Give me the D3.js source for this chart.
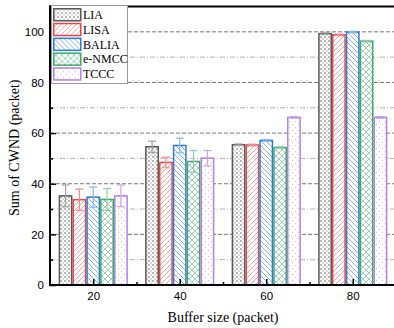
<!DOCTYPE html>
<html>
<head>
<meta charset="utf-8">
<script src="https://cdn.jsdelivr.net/npm/d3@7/dist/d3.min.js"></script>
<style>
  body { margin: 0; background: #fff; }
  svg { display: block; }
  .tick text { font-family: "Liberation Sans", Arial, sans-serif; font-size: 11.5px; fill: #000; }
</style>
</head>
<body>
<div id="chart"></div>
<script>
// data
const buffers = [20, 40, 60, 80];
const seriesNames = ['LIA', 'LISA', 'BALIA', 'e-NMCC', 'TCCC'];
const liaVals = [35.2, 54.6, 55.4, 99.3];
const lisaVals = [33.7, 48.4, 55.3, 98.8];
const baliaVals = [34.7, 55.1, 57.1, 99.9];
const enmccVals = [33.8, 48.8, 54.3, 96.3];
const tcccVals = [35.2, 50.1, 66.2, 66.2];
const liaErr = [4.3, 2.2, 0.3, 0.3];
const lisaErr = [4.2, 2.1, 0.3, 0.3];
const baliaErr = [4.0, 2.9, 0.3, 0.3];
const enmccErr = [4.3, 4.3, 0.3, 0.3];
const tcccErr = [4.3, 3.0, 0.3, 0.3];
const yMajor = [0, 20, 40, 60, 80, 100];
const yMinor = [10, 30, 50, 70, 90];
const xMinor = [30, 50, 70];

const values = [liaVals, lisaVals, baliaVals, enmccVals, tcccVals];
const errors = [liaErr, lisaErr, baliaErr, enmccErr, tcccErr];

const styles = {
  'LIA':    { stroke: '#5a5a5a', light: '#b8b8b8', err: '#a0a0a0' },
  'LISA':   { stroke: '#e8484c', light: '#f5a3a5', err: '#f08b8d' },
  'BALIA':  { stroke: '#2f78df', light: '#86b4ef', err: '#8ab6ef' },
  'e-NMCC': { stroke: '#3fa86c', light: '#9dd5b4', err: '#8fcfa8' },
  'TCCC':   { stroke: '#b481e6', light: '#d2b6f0', err: '#c7a3ee' }
};

const W = 394, H = 328;
const svg = d3.select('#chart').append('svg')
  .attr('width', W).attr('height', H);

// patterns
const defs = svg.append('defs');
const pid = name => 'pat-' + name.replace(/[^a-zA-Z]/g, '');

(function makePatterns() {
  let p = defs.append('pattern').attr('id', pid('LIA'))
    .attr('patternUnits', 'userSpaceOnUse').attr('width', 4).attr('height', 4);
  p.append('rect').attr('width', 4).attr('height', 4).attr('fill', '#fff');
  p.append('rect').attr('x', 0).attr('y', 0).attr('width', 2).attr('height', 2).attr('fill', styles.LIA.light);
  p.append('rect').attr('x', 2).attr('y', 2).attr('width', 2).attr('height', 2).attr('fill', '#dcdcdc');

  p = defs.append('pattern').attr('id', pid('LISA'))
    .attr('patternUnits', 'userSpaceOnUse').attr('width', 5).attr('height', 5);
  p.append('rect').attr('width', 5).attr('height', 5).attr('fill', '#fff');
  p.append('path').attr('d', 'M-1,6 L6,-1 M-1,1 L1,-1 M4,6 L6,4')
    .attr('stroke', styles.LISA.light).attr('stroke-width', 1);

  p = defs.append('pattern').attr('id', pid('BALIA'))
    .attr('patternUnits', 'userSpaceOnUse').attr('width', 5).attr('height', 5);
  p.append('rect').attr('width', 5).attr('height', 5).attr('fill', '#fff');
  p.append('path').attr('d', 'M-1,-1 L6,6 M4,-1 L6,1 M-1,4 L1,6')
    .attr('stroke', styles.BALIA.light).attr('stroke-width', 1);

  p = defs.append('pattern').attr('id', pid('e-NMCC'))
    .attr('patternUnits', 'userSpaceOnUse').attr('width', 6).attr('height', 6);
  p.append('rect').attr('width', 6).attr('height', 6).attr('fill', '#fff');
  p.append('path').attr('d', 'M-1,-1 L7,7 M-1,7 L7,-1')
    .attr('stroke', styles['e-NMCC'].light).attr('stroke-width', 1);

  p = defs.append('pattern').attr('id', pid('TCCC'))
    .attr('patternUnits', 'userSpaceOnUse').attr('width', 6).attr('height', 6);
  p.append('rect').attr('width', 6).attr('height', 6).attr('fill', '#fff');
  p.append('rect').attr('x', 1).attr('y', 1).attr('width', 1).attr('height', 1).attr('fill', styles.TCCC.light);
  p.append('rect').attr('x', 4).attr('y', 4).attr('width', 1).attr('height', 1).attr('fill', styles.TCCC.light);
})();

// scales
const x = d3.scaleLinear().domain([10, 90]).range([50, 396]);
const y = d3.scaleLinear().domain([0, 110]).range([285, 6.5]);

// gridlines
const grid = svg.append('g');
grid.selectAll('line.major')
  .data(yMajor.filter(v => v > 0))
  .join('line')
  .attr('x1', x(10)).attr('x2', W)
  .attr('y1', d => y(d)).attr('y2', d => y(d))
  .attr('stroke', '#7a7a7a').attr('stroke-width', 1)
  .attr('stroke-dasharray', '4,2');
grid.selectAll('line.minor')
  .data(yMinor)
  .join('line')
  .attr('x1', x(10)).attr('x2', W)
  .attr('y1', d => y(d)).attr('y2', d => y(d))
  .attr('stroke', '#b4b4b4').attr('stroke-width', 1)
  .attr('stroke-dasharray', '5,2,1,2');

// bars
const groupHalf = 8;
const bars = svg.append('g');
buffers.forEach((b, gi) => {
  const inner = d3.scaleBand().domain(seriesNames)
    .range([x(b - groupHalf), x(b + groupHalf)]);
  seriesNames.forEach((name, si) => {
    const v = values[si][gi];
    const e = errors[si][gi];
    const st = styles[name];
    const bx = inner(name), bw = inner.bandwidth();
    bars.append('rect')
      .attr('x', bx + 0.75).attr('y', y(v))
      .attr('width', bw - 1.5).attr('height', y(0) - y(v))
      .attr('fill', `url(#${pid(name)})`)
      .attr('stroke', st.stroke).attr('stroke-width', 1.5);
    const cx = bx + bw / 2;
    const eb = bars.append('g').attr('stroke', st.err).attr('stroke-width', 1.2);
    eb.append('line').attr('x1', cx).attr('x2', cx).attr('y1', y(v + e)).attr('y2', y(v - e));
    eb.append('line').attr('x1', cx - 4).attr('x2', cx + 4).attr('y1', y(v + e)).attr('y2', y(v + e));
    eb.append('line').attr('x1', cx - 4).attr('x2', cx + 4).attr('y1', y(v - e)).attr('y2', y(v - e));
  });
});

// axes
const yAxis = d3.axisLeft(y).tickValues(yMajor).tickSizeInner(-6).tickSizeOuter(0).tickPadding(6);
const gy = svg.append('g').attr('transform', `translate(${x(10)},0)`).call(yAxis);
gy.select('.domain').remove();
gy.selectAll('.tick line').attr('stroke', '#000').attr('stroke-width', 1.5);

const yMinorAxis = d3.axisLeft(y).tickValues(yMinor).tickSizeInner(-3).tickSizeOuter(0).tickFormat('');
const gym = svg.append('g').attr('transform', `translate(${x(10)},0)`).call(yMinorAxis);
gym.select('.domain').remove();
gym.selectAll('.tick line').attr('stroke', '#000').attr('stroke-width', 1.5);

const xAxis = d3.axisBottom(x).tickValues(buffers).tickSizeInner(-6).tickSizeOuter(0).tickPadding(7);
const gx = svg.append('g').attr('transform', `translate(0,${y(0)})`).call(xAxis);
gx.select('.domain').remove();
gx.selectAll('.tick line').attr('stroke', '#000').attr('stroke-width', 1.5);

const xMinorAxis = d3.axisBottom(x).tickValues(xMinor).tickSizeInner(-3).tickSizeOuter(0).tickFormat('');
const gxm = svg.append('g').attr('transform', `translate(0,${y(0)})`).call(xMinorAxis);
gxm.select('.domain').remove();
gxm.selectAll('.tick line').attr('stroke', '#000').attr('stroke-width', 1.5);

// frame lines
svg.append('line').attr('x1', x(10)).attr('x2', x(10)).attr('y1', y(110) - 1).attr('y2', y(0) + 1)
  .attr('stroke', '#000').attr('stroke-width', 2);
svg.append('line').attr('x1', x(10) - 1).attr('x2', W).attr('y1', y(0)).attr('y2', y(0))
  .attr('stroke', '#000').attr('stroke-width', 2);
svg.append('line').attr('x1', x(10) - 1).attr('x2', W).attr('y1', y(110)).attr('y2', y(110))
  .attr('stroke', '#000').attr('stroke-width', 2);

// axis titles
svg.append('text')
  .attr('x', (x(10) + W) / 2 + 1).attr('y', 322)
  .attr('text-anchor', 'middle')
  .style('font-family', '"Liberation Serif", "Times New Roman", serif')
  .style('font-size', '14px')
  .text('Buffer size (packet)');
svg.append('text')
  .attr('transform', `translate(19,${(y(0) + y(110)) / 2 + 2}) rotate(-90)`)
  .attr('text-anchor', 'middle')
  .style('font-family', '"Liberation Serif", "Times New Roman", serif')
  .style('font-size', '14px')
  .text('Sum of CWND (packet)');

// legend
const lg = svg.append('g').attr('transform', 'translate(51,5)');
lg.append('rect').attr('x', 0.5).attr('y', 0.5).attr('width', 76).attr('height', 78)
  .attr('fill', '#fff').attr('stroke', '#9a9a9a').attr('stroke-width', 1);
seriesNames.forEach((name, i) => {
  const row = lg.append('g').attr('transform', `translate(2,${3 + i * 14.8})`);
  row.append('rect').attr('x', 0.75).attr('y', 0.75).attr('width', 27).attr('height', 12)
    .attr('fill', `url(#${pid(name)})`)
    .attr('stroke', styles[name].stroke).attr('stroke-width', 1.5);
  row.append('text').attr('x', 30).attr('y', 11)
    .style('font-family', '"Liberation Serif", "Times New Roman", serif')
    .style('font-size', '12px')
    .text(name);
});
</script>
</body>
</html>
